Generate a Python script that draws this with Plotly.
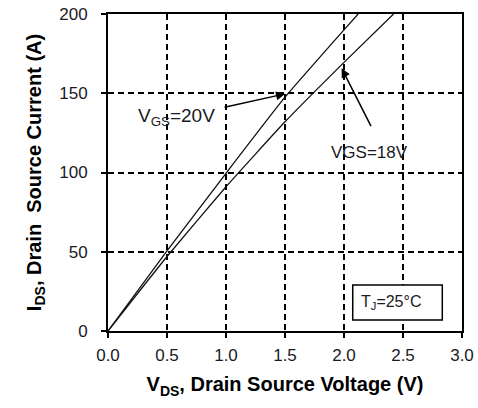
import plotly.graph_objects as go

# Output characteristics, VDS (V) vs IDS (A)
vds_20 = [0.0, 0.5, 1.0, 1.5, 2.0, 2.12]
ids_20 = [0.0, 50.5, 99.5, 147.5, 190.0, 200.0]

vds_18 = [0.0, 0.5, 1.0, 1.5, 2.0, 2.42]
ids_18 = [0.0, 47.0, 91.0, 132.0, 169.5, 200.0]

x_ticks = [0.0, 0.5, 1.0, 1.5, 2.0, 2.5, 3.0]
x_tick_text = ["0.0", "0.5", "1.0", "1.5", "2.0", "2.5", "3.0"]
y_ticks = [0, 50, 100, 150, 200]
y_tick_text = ["0", "50", "100", "150", "200"]

FONT = "Liberation Sans, Arial, sans-serif"
INK = "#1a1a24"

fig = go.Figure()
for vx, iy in ((vds_20, ids_20), (vds_18, ids_18)):
    fig.add_trace(go.Scatter(x=vx, y=iy, mode="lines",
                             line=dict(color="#111111", width=1.3, shape="spline", smoothing=0.4),
                             showlegend=False))

axis_common = dict(
    showline=True, linecolor="black", linewidth=2, mirror=True,
    showgrid=True, gridcolor="black", gridwidth=1.5, griddash="6px,4px",
    ticks="outside", ticklen=5, tickwidth=1.5, tickcolor="black",
    zeroline=False, automargin=False,
    tickfont=dict(family=FONT, size=17, color=INK),
)

fig.update_xaxes(range=[0, 3], tickvals=x_ticks, ticktext=x_tick_text,
                 ticklabelstandoff=3,
                 title=dict(text="<b>V<sub>DS</sub>, Drain Source Voltage (V)</b>",
                            font=dict(family=FONT, size=20, color="black"), standoff=13),
                 **axis_common)
fig.update_yaxes(range=[0, 200], tickvals=y_ticks, ticktext=y_tick_text,
                 ticklabelstandoff=10,
                 title=dict(text="<b>I<sub>DS</sub>, Drain  Source Current (A)</b>",
                            font=dict(family=FONT, size=20, color="black"), standoff=12),
                 **axis_common)

# Junction temperature box
fig.add_shape(type="rect", x0=2.074, x1=2.833, y0=6.9, y1=29.0, xref="x", yref="y",
              line=dict(color="black", width=1.5), fillcolor="white", layer="above")

annotations = [
    dict(x=0.58, y=135.0, text="V<sub>GS</sub>=20V", showarrow=False,
         font=dict(family=FONT, size=19, color=INK)),
    dict(x=2.216, y=112.6, text="VGS=18V", showarrow=False,
         font=dict(family=FONT, size=17, color=INK)),
    dict(x=2.398, y=17.7, text="T<sub>J</sub>=25°C", showarrow=False,
         font=dict(family=FONT, size=16, color=INK)),
    dict(x=1.5, y=149.6, ax=0.975, ay=140.9, axref="x", ayref="y", text="",
         showarrow=True, arrowhead=2, arrowsize=1.2, arrowwidth=1.5, arrowcolor="black"),
    dict(x=1.98, y=165.7, ax=2.235, ay=128.3, axref="x", ayref="y", text="",
         showarrow=True, arrowhead=2, arrowsize=1.2, arrowwidth=1.5, arrowcolor="black"),
]
for a in annotations:
    a.setdefault("xref", "x")
    a.setdefault("yref", "y")
    fig.add_annotation(**a)

fig.update_layout(
    width=478, height=408, autosize=False,
    margin=dict(l=108, r=16, t=14, b=77, autoexpand=False),
    paper_bgcolor="white", plot_bgcolor="white",
    font=dict(family=FONT),
)

fig.write_html("out.html")
